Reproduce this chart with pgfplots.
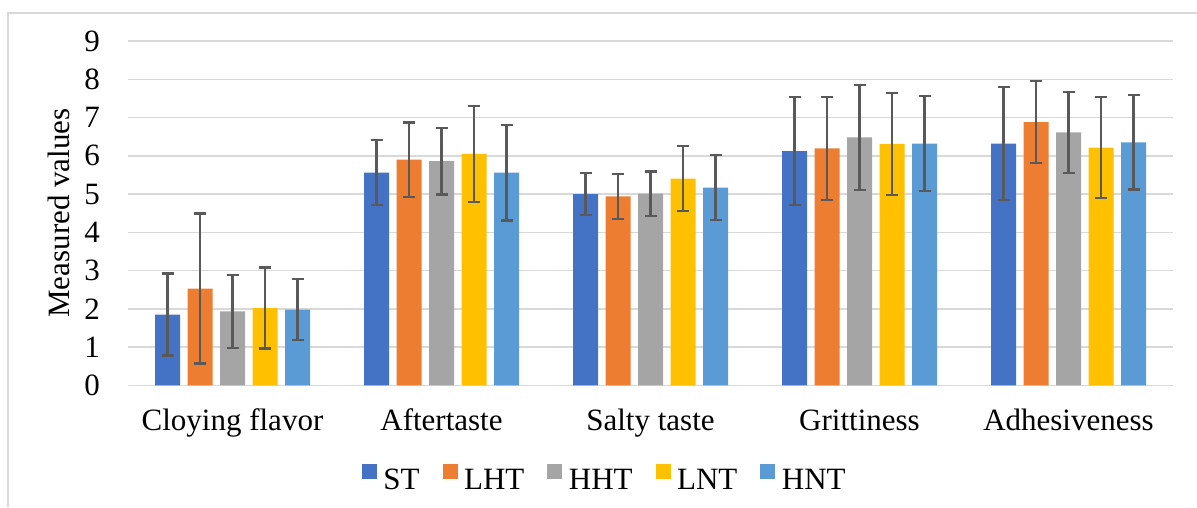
\documentclass[border=0pt]{standalone}
\usepackage{fontspec}
\setmainfont{Liberation Serif}
\usepackage{pgfplots}
\usepackage{pgfplotstable}
\pgfplotsset{compat=1.18}
\definecolor{cST}{HTML}{4472C4}
\definecolor{cLHT}{HTML}{ED7D31}
\definecolor{cHHT}{HTML}{A5A5A5}
\definecolor{cLNT}{HTML}{FFC000}
\definecolor{cHNT}{HTML}{5B9BD5}
\definecolor{gridc}{HTML}{D9D9D9}
\definecolor{errc}{HTML}{595959}
\pgfplotstableread{
x y e
0 1.85 1.07
1 5.56 0.85
2 5.00 0.54
3 6.12 1.41
4 6.32 1.47
}\tST
\pgfplotstableread{
x y e
0 2.53 1.96
1 5.90 0.97
2 4.94 0.59
3 6.19 1.35
4 6.88 1.07
}\tLHT
\pgfplotstableread{
x y e
0 1.93 0.95
1 5.86 0.87
2 5.01 0.58
3 6.48 1.37
4 6.61 1.05
}\tHHT
\pgfplotstableread{
x y e
0 2.02 1.06
1 6.05 1.26
2 5.40 0.85
3 6.31 1.33
4 6.21 1.32
}\tLNT
\pgfplotstableread{
x y e
0 1.98 0.80
1 5.56 1.25
2 5.17 0.85
3 6.32 1.25
4 6.35 1.23
}\tHNT
\newcommand{\bigf}{\fontsize{31}{37}\selectfont}
\begin{document}
\begin{tikzpicture}[x=1pt,y=1pt]
\draw[color=gridc, line width=1.5pt] (8pt,0pt) -- (8pt,494pt) -- (1197pt,494pt);
\node[rotate=90, font=\bigf, inner sep=0pt] at (58.5pt,294pt) {Measured values};
\begin{axis}[
 at={(128pt,121.7pt)}, anchor=south west,
 scale only axis, width=1045pt, height=344.3pt,
 xmin=-0.5, xmax=4.5, ymin=0, ymax=9,
 ybar=7.5pt, bar width=25pt,
 xtick={0,...,4},
 xticklabels={Cloying flavor, Aftertaste, Salty taste, Grittiness, Adhesiveness},
 ytick={0,...,9},
 axis line style={draw=none},
 major tick length=0pt,
 ymajorgrids, grid style={color=gridc, line width=1.5pt},
 font=\bigf,
 tick label style={font=\bigf},
 /pgf/number format/assume math mode=true,
 yticklabel style={anchor=east, inner sep=0pt, xshift=-28pt},
 xticklabel style={anchor=base, inner sep=0pt, yshift=-44.7pt},
 legend columns=5,
 legend style={draw=none, fill=none, at={(axis description cs:0.2239,-0.2678)}, anchor=west, inner sep=0pt, outer sep=0pt, font=\bigf,
   nodes={inner sep=0pt},
   /tikz/every odd column/.style={column sep=6.5pt},
   /tikz/every even column/.style={column sep=23pt}},
 legend image code/.code={\fill[#1] (0pt,1pt) rectangle (15pt,16pt);},
 error bars/y dir=both, error bars/y explicit,
 error bars/error bar style={draw=errc, line width=2.2pt},
 error bars/error mark options={rotate=90, draw=errc, line width=2.2pt, mark size=6pt},
]
\addplot[fill=cST, draw=none] table[x=x, y=y, y error=e] {\tST};
\addplot[fill=cLHT, draw=none] table[x=x, y=y, y error=e] {\tLHT};
\addplot[fill=cHHT, draw=none] table[x=x, y=y, y error=e] {\tHHT};
\addplot[fill=cLNT, draw=none] table[x=x, y=y, y error=e] {\tLNT};
\addplot[fill=cHNT, draw=none] table[x=x, y=y, y error=e] {\tHNT};
\legend{ST,LHT,HHT,LNT,HNT}
\end{axis}
\pgfresetboundingbox
\path[use as bounding box] (0pt,0pt) rectangle (1197pt,507pt);
\end{tikzpicture}
\end{document}
